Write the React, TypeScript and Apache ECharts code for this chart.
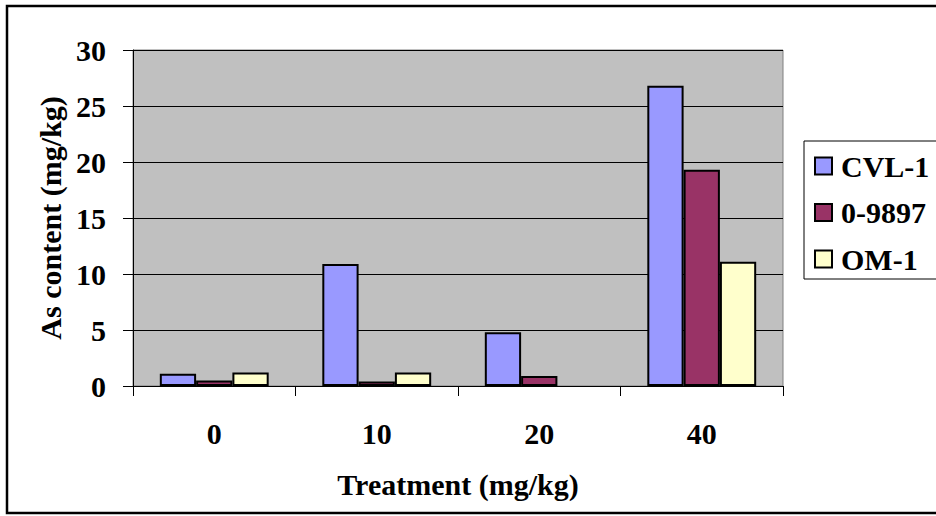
import React, { useEffect, useRef } from "react";
import * as echarts from "echarts";

// Arsenic content by treatment dose, per variety
const categories = ["0", "10", "20", "40"];
const cvl1 = [1.1, 10.9, 4.8, 26.8];
const v09897 = [0.5, 0.4, 0.9, 19.3];
const om1 = [1.2, 1.2, null, 11.1];
const yTicks = { min: 0, max: 30, interval: 5 };

const FONT = "'Liberation Serif', 'Times New Roman', serif";
const FS = 30;

export default function App() {
  const ref = useRef<HTMLDivElement>(null);

  useEffect(() => {
    if (!ref.current) return;
    const chart = echarts.init(ref.current, null, { renderer: "svg" });

    const barStyle = (color: string) => ({
      color,
      borderColor: "#000",
      borderWidth: 2,
    });

    const boldText = {
      fontFamily: FONT,
      fontWeight: "bold",
      fontSize: FS,
      color: "#000",
    };

    chart.setOption({
      animation: false,
      backgroundColor: "#fff",
      textStyle: { fontFamily: FONT },
      graphic: [
        {
          type: "rect",
          shape: { x: 7, y: 6, width: 980, height: 507 },
          style: { fill: "none", stroke: "#000", lineWidth: 2.5 },
          z: 100,
        },
      ],
      grid: {
        left: 133,
        top: 50,
        width: 650,
        height: 336,
        show: true,
        backgroundColor: "#C0C0C0",
        borderColor: "#808080",
        borderWidth: 1,
      },
      legend: {
        orient: "vertical",
        left: 804,
        top: 141,
        padding: [10, 30, 5, 10],
        itemWidth: 17,
        itemHeight: 17,
        itemGap: 16.5,
        icon: "rect",
        backgroundColor: "#fff",
        borderColor: "#000",
        borderWidth: 1,
        textStyle: {
          ...boldText,
          lineHeight: 30,
          padding: [0, 0, 0, 4],
        },
        data: ["CVL-1", "0-9897", "OM-1"],
      },
      xAxis: {
        type: "category",
        data: categories,
        name: "Treatment (mg/kg)",
        nameLocation: "middle",
        nameGap: 83,
        nameTextStyle: boldText,
        axisLine: { lineStyle: { color: "#000", width: 1 } },
        axisTick: { show: true, length: 10, lineStyle: { color: "#000" } },
        axisLabel: { margin: 32, ...boldText },
      },
      yAxis: {
        type: "value",
        min: yTicks.min,
        max: yTicks.max,
        interval: yTicks.interval,
        name: "As content (mg/kg)",
        nameLocation: "middle",
        nameGap: 67,
        nameTextStyle: boldText,
        axisLine: { show: true, lineStyle: { color: "#000", width: 1 } },
        axisTick: { show: true, length: 10, lineStyle: { color: "#000" } },
        axisLabel: { margin: 27, ...boldText },
        splitLine: { show: true, lineStyle: { color: "#000", width: 1 } },
      },
      series: [
        {
          name: "CVL-1",
          type: "bar",
          data: cvl1,
          barGap: "0%",
          barCategoryGap: "33%",
          itemStyle: barStyle("#9999FF"),
        },
        {
          name: "0-9897",
          type: "bar",
          data: v09897,
          barGap: "0%",
          barCategoryGap: "33%",
          itemStyle: barStyle("#993366"),
        },
        {
          name: "OM-1",
          type: "bar",
          data: om1,
          barGap: "0%",
          barCategoryGap: "33%",
          itemStyle: barStyle("#FFFFCC"),
        },
      ],
    });

    return () => chart.dispose();
  }, []);

  return (
    <div
      ref={ref}
      style={{ position: "fixed", left: 0, top: 0, width: 936, height: 516 }}
    />
  );
}
